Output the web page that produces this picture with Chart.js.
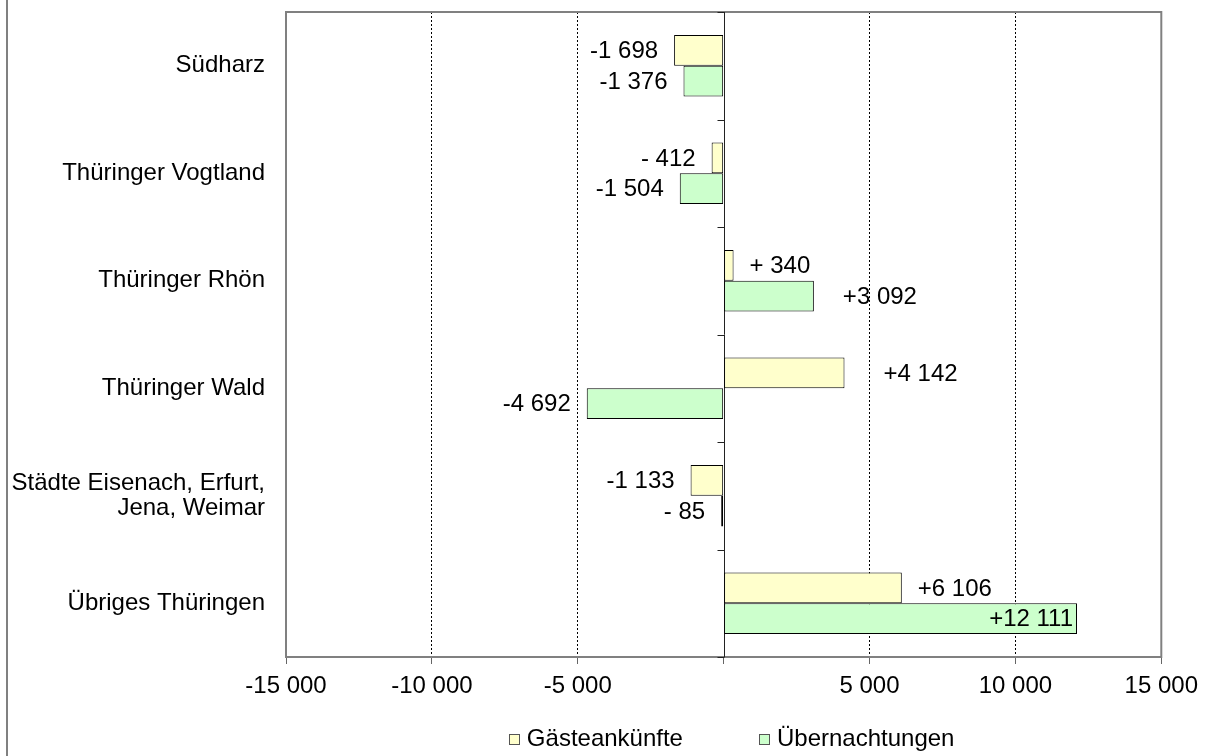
<!DOCTYPE html>
<html>
<head>
<meta charset="utf-8">
<script src="https://cdn.jsdelivr.net/npm/chart.js@4.4.0/dist/chart.umd.min.js"></script>
<style>
  html, body { margin: 0; padding: 0; background: #fff; }
  canvas { display: block; }
</style>
</head>
<body>
<canvas id="chart" width="1206" height="756"></canvas>
<script>
// Data
const categories = [
  'Südharz',
  'Thüringer Vogtland',
  'Thüringer Rhön',
  'Thüringer Wald',
  ['Städte Eisenach, Erfurt,', 'Jena, Weimar'],
  'Übriges Thüringen'
];
const seriesNames = ['Gästeankünfte', 'Übernachtungen'];
const gaesteankuenfte = [-1698, -412, 340, 4142, -1133, 6106];
const uebernachtungen = [-1376, -1504, 3092, -4692, -85, 12111];
const gaesteLabels = ['-1 698', '- 412', '+ 340', '+4 142', '-1 133', '+6 106'];
const uebernLabels = ['-1 376', '-1 504', '+3 092', '-4 692', '- 85', '+12 111'];
const xTickValues = [-15000, -10000, -5000, 0, 5000, 10000, 15000];
const xTickLabels = ['-15 000', '-10 000', '-5 000', '', '5 000', '10 000', '15 000'];

const FONT = "'Liberation Sans', Arial, sans-serif";
const FONT_SIZE = 24;
const colors = ['#FFFFCC', '#CCFFCC'];
const valueLabels = [gaesteLabels, uebernLabels];

Chart.defaults.font.family = FONT;
Chart.defaults.font.size = FONT_SIZE;
Chart.defaults.color = '#000';

// plot frame, chart edge and the zero axis with its category ticks
const framePlugin = {
  id: 'frame',
  beforeDatasetsDraw(chart) {
    const { ctx, chartArea: a, scales: { x, y } } = chart;
    ctx.save();
    ctx.strokeStyle = '#808080';
    ctx.lineWidth = 2;
    ctx.beginPath();
    ctx.moveTo(7, 0);
    ctx.lineTo(7, chart.height);
    ctx.stroke();
    ctx.strokeRect(a.left, a.top, a.right - a.left, a.bottom - a.top);

    const x0 = Math.round(x.getPixelForValue(0)) + 0.5;
    ctx.strokeStyle = '#222';
    ctx.lineWidth = 1;
    ctx.beginPath();
    ctx.moveTo(x0, a.top);
    ctx.lineTo(x0, a.bottom);
    for (let i = 0; i <= categories.length; i++) {
      const yy = Math.round(y.getPixelForValue(i - 0.5)) + 0.5;
      ctx.moveTo(x0 - 7, yy);
      ctx.lineTo(x0, yy);
    }
    ctx.stroke();
    ctx.restore();
  }
};

// value labels next to the bars
const labelPlugin = {
  id: 'valueLabels',
  afterDatasetsDraw(chart) {
    const ctx = chart.ctx;
    const nudge = { '0-3': 23, '1-2': 13 };
    ctx.save();
    ctx.font = FONT_SIZE + 'px ' + FONT;
    ctx.fillStyle = '#000';
    ctx.textBaseline = 'middle';
    chart.data.datasets.forEach((ds, di) => {
      chart.getDatasetMeta(di).data.forEach((bar, i) => {
        const v = ds.data[i];
        let x = bar.x;
        if (di === 1 && i === 5) {
          ctx.textAlign = 'right';
          x -= 4;
        } else if (v < 0) {
          ctx.textAlign = 'right';
          x -= 16;
        } else {
          ctx.textAlign = 'left';
          x += 16 + (nudge[di + '-' + i] || 0);
        }
        ctx.fillText(valueLabels[di][i], x, bar.y + 1);
      });
    });
    ctx.restore();
  }
};

// legend at the bottom
const legendPlugin = {
  id: 'bottomLegend',
  afterDraw(chart) {
    const ctx = chart.ctx;
    const a = chart.chartArea;
    const box = 10, boxGap = 8, itemGap = 76;
    ctx.save();
    ctx.font = FONT_SIZE + 'px ' + FONT;
    const widths = seriesNames.map(n => box + boxGap + ctx.measureText(n).width);
    const total = widths[0] + itemGap + widths[1];
    let x = (a.left + a.right) / 2 + 8 - total / 2;
    const cy = 739;
    seriesNames.forEach((name, i) => {
      ctx.fillStyle = colors[i];
      ctx.fillRect(x, cy - box / 2, box, box);
      ctx.strokeStyle = '#555';
      ctx.lineWidth = 1;
      ctx.strokeRect(Math.round(x) + 0.5, Math.round(cy - box / 2) + 0.5, box, box);
      ctx.fillStyle = '#000';
      ctx.textAlign = 'left';
      ctx.textBaseline = 'middle';
      ctx.fillText(name, x + box + boxGap, cy);
      x += widths[i] + itemGap;
    });
    ctx.restore();
  }
};

const ctx = document.getElementById('chart').getContext('2d');
const chart = new Chart(ctx, {
  type: 'bar',
  data: {
    labels: categories,
    datasets: [
      {
        label: seriesNames[0],
        data: gaesteankuenfte,
        backgroundColor: colors[0],
        borderColor: '#000',
        borderWidth: 1,
        borderSkipped: false
      },
      {
        label: seriesNames[1],
        data: uebernachtungen,
        backgroundColor: colors[1],
        borderColor: '#000',
        borderWidth: 1,
        borderSkipped: false
      }
    ]
  },
  options: {
    indexAxis: 'y',
    responsive: false,
    animation: false,
    devicePixelRatio: 1,
    categoryPercentage: 0.57,
    barPercentage: 1,
    layout: { padding: { top: 12, right: 43, left: 0, bottom: 0 } },
    plugins: {
      legend: { display: false },
      tooltip: { enabled: false }
    },
    scales: {
      x: {
        min: -15000,
        max: 15000,
        afterBuildTicks: (s) => { s.ticks = xTickValues.map(v => ({ value: v })); },
        afterFit: (s) => { s.height = 99; },
        ticks: {
          padding: 8,
          maxRotation: 0,
          autoSkip: false,
          callback: (v) => xTickLabels[xTickValues.indexOf(v)]
        },
        grid: {
          color: (c) => {
            const v = c.tick && c.tick.value;
            return (v === 0 || v === -15000 || v === 15000) ? 'transparent' : '#000';
          },
          lineWidth: 1,
          tickColor: '#666',
          tickLength: 7,
          tickBorderDash: []
        },
        border: { display: false, dash: [2, 2] }
      },
      y: {
        afterFit: (s) => {
          s.width = 286;
          s.paddingTop = 0;
          s.paddingBottom = 0;
        },
        ticks: {
          padding: 13,
          font: { size: FONT_SIZE, lineHeight: 1.05 }
        },
        grid: { display: false },
        border: { display: false }
      }
    }
  },
  plugins: [framePlugin, labelPlugin, legendPlugin]
});
</script>
</body>
</html>
